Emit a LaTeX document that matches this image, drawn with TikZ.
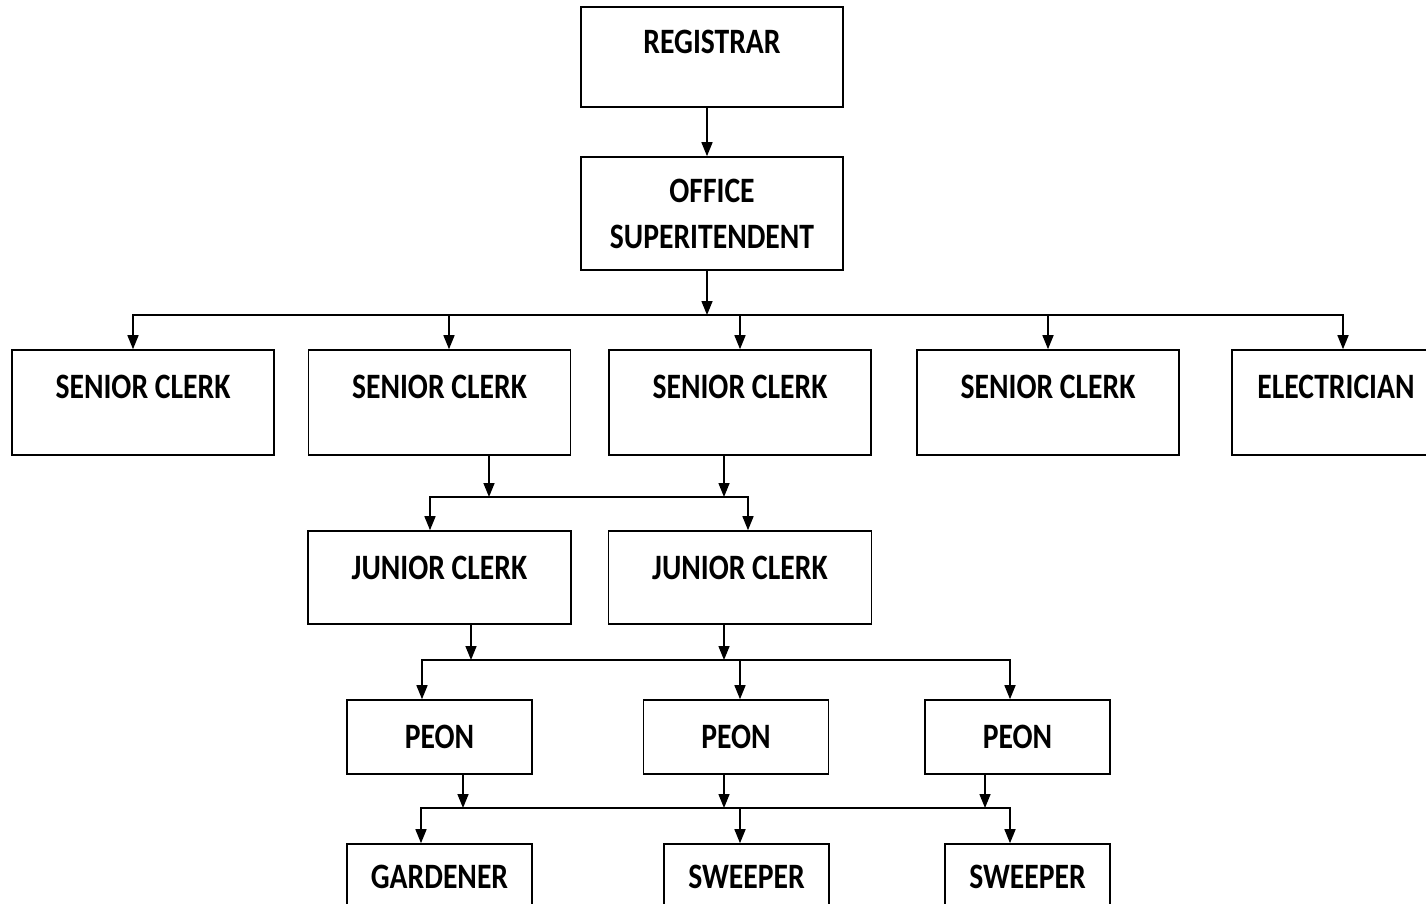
\documentclass[tikz,border=0pt]{standalone}
\usepackage{fontspec}
\setmainfont{Carlito}[FakeStretch=0.83]
\usepackage{tikz}
\usetikzlibrary{arrows.meta}
\tikzstyle{post} = [rectangle, minimum width=262pt, minimum height=105pt, text centered, draw=black, line width=1.6pt, text height=23pt, text depth=31pt]
\tikzstyle{junior} = [post, minimum width=263pt, minimum height=93pt, text depth=19pt]
\tikzstyle{staff} = [post, minimum width=185pt, minimum height=74pt, text depth=0pt]
\tikzstyle{arrow} = [line width=1.5pt, -{Triangle[length=14pt,width=11pt]}]

\begin{document}
\begin{tikzpicture}[x=1pt, y=-1pt, font=\bfseries\fontsize{35.7}{46}\selectfont]
   \useasboundingbox (0,0) rectangle (1426,903);
   \node (reg) [post, minimum height=100pt, text depth=30pt] at (712,57) {REGISTRAR};
   \node (os) [post, minimum height=113pt, text height=, text depth=, align=center] at (712,213.5) {OFFICE\\SUPERITENDENT};
   \node (sc1) [post] at (143,402.5) {SENIOR CLERK};
   \node (sc2) [post] at (439.5,402.5) {SENIOR CLERK};
   \node (sc3) [post] at (740,402.5) {SENIOR CLERK};
   \node (sc4) [post] at (1048,402.5) {SENIOR CLERK};
   \node (el) [post, minimum width=208pt] at (1336,402.5) {ELECTRICIAN};
   \node (jc1) [junior] at (439.5,577.5) {JUNIOR CLERK};
   \node (jc2) [junior] at (740,577.5) {JUNIOR CLERK};
   \node (p1) [staff] at (439.5,737) {PEON};
   \node (p2) [staff] at (736,737) {PEON};
   \node (p3) [staff] at (1017.5,737) {PEON};
   \node (gd) [staff, text depth=8pt] at (439.5,881) {GARDENER};
   \node (sw1) [staff, minimum width=165pt, text depth=8pt] at (746.5,881) {SWEEPER};
   \node (sw2) [staff, minimum width=165pt, text depth=8pt] at (1027.5,881) {SWEEPER};

   % junction points on the horizontal lines
   \coordinate (bus1) at (707,315);
   \coordinate (bus2) at (489,497);
   \coordinate (bus3) at (471,660);
   \coordinate (bus4) at (463,808);

   \draw [arrow] ([xshift=-5pt]reg.south) -- ([xshift=-5pt]os.north);
   \draw [arrow] ([xshift=-5pt]os.south) -- (bus1);
   \foreach \n/\dx in {sc1/-10, sc2/9.5, sc3/0, sc4/0, el/7}
      \draw [arrow] (bus1) -| ([xshift=\dx pt]\n.north);

   \draw [arrow] ([xshift=49.5pt]sc2.south) -- ([xshift=49.5pt]sc2.south |- bus2);
   \draw [arrow] ([xshift=-16pt]sc3.south) -- ([xshift=-16pt]sc3.south |- bus2);
   \draw [arrow] (bus2) -| ([xshift=-9.5pt]jc1.north);
   \draw [arrow] (bus2) -| ([xshift=8pt]jc2.north);

   \draw [arrow] ([xshift=31.5pt]jc1.south) -- (bus3);
   \draw [arrow] ([xshift=-16pt]jc2.south) -- ([xshift=-16pt]jc2.south |- bus3);
   \foreach \n/\dx in {p1/-17.5, p2/4, p3/-7.5}
      \draw [arrow] (bus3) -| ([xshift=\dx pt]\n.north);

   \draw [arrow] ([xshift=23.5pt]p1.south) -- (bus4);
   \draw [arrow] ([xshift=-12pt]p2.south) -- ([xshift=-12pt]p2.south |- bus4);
   \draw [arrow] ([xshift=-32.5pt]p3.south) -- ([xshift=-32.5pt]p3.south |- bus4);
   \foreach \n/\dx in {gd/-18.5, sw1/-6.5, sw2/-17.5}
      \draw [arrow] (bus4) -| ([xshift=\dx pt]\n.north);
\end{tikzpicture}
\end{document}
